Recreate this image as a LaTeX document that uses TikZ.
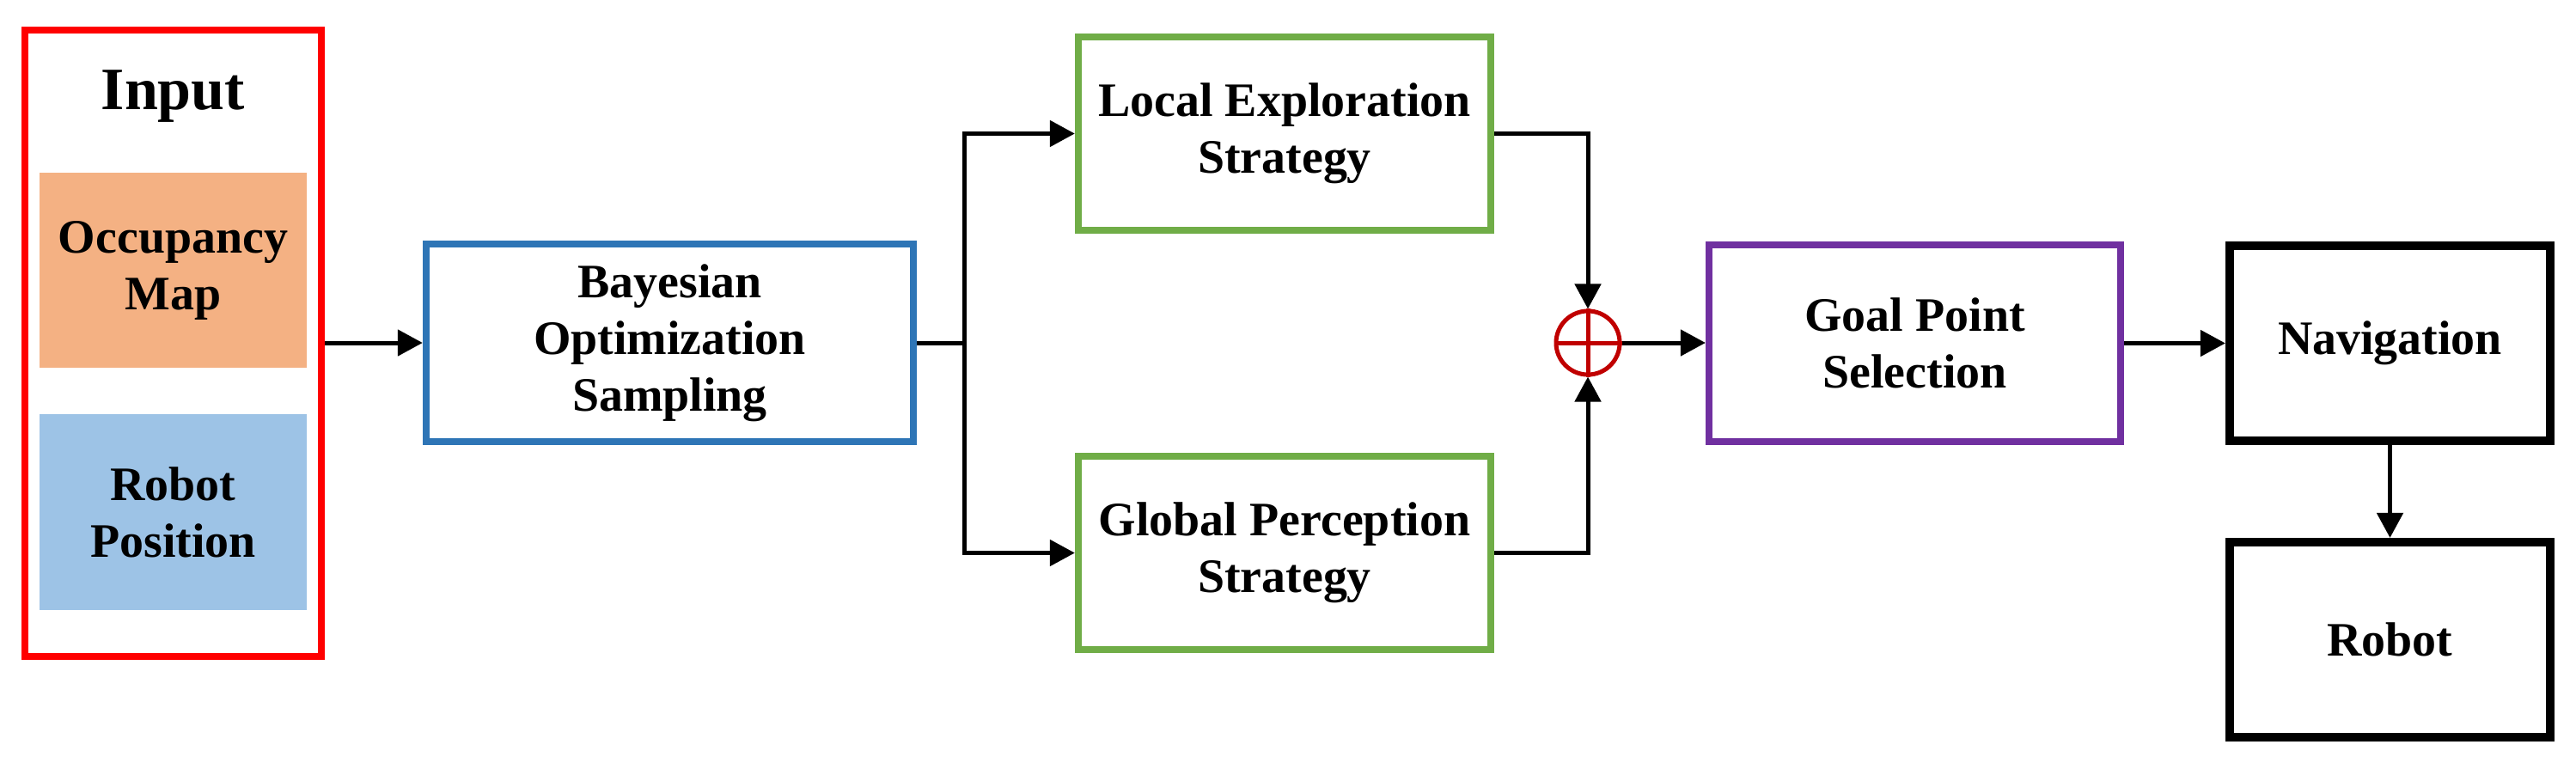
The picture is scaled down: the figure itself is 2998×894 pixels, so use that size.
\documentclass[tikz,border=0pt]{standalone}
\usepackage{fontspec}
\setmainfont{Liberation Serif}
\usetikzlibrary{arrows.meta}
\definecolor{inred}{HTML}{FF0000}
\definecolor{bblue}{HTML}{2E75B6}
\definecolor{ggreen}{HTML}{70AD47}
\definecolor{ppurple}{HTML}{7030A0}
\definecolor{oorange}{HTML}{F4B183}
\definecolor{lblue}{HTML}{9DC3E6}
\definecolor{dred}{HTML}{C00000}
\begin{document}
\begin{tikzpicture}[x=0.01cm,y=-0.01cm,
  box/.style={draw,rectangle,inner sep=0pt,align=center,font=\fontsize{15.9pt}{18.8pt}\selectfont\bfseries,line width=0.08cm},
  fillbox/.style={rectangle,inner sep=0pt,align=center,font=\fontsize{15.9pt}{18.8pt}\selectfont\bfseries},
  arr/.style={line width=0.05cm,-{Triangle[length=0.29cm,width=0.30cm]}},
  conn/.style={line width=0.05cm}]
\useasboundingbox (0,0) rectangle (2998,894);
% input
\node[box,draw=inred,minimum width=3.45cm,minimum height=7.29cm] (inputbox) at (201.5,399.5) {};
\node[anchor=base,inner sep=0pt,font=\fontsize{19.9pt}{22pt}\selectfont\bfseries] (inputtitle) at (201.5,128) {Input};
\node[fillbox,fill=oorange,minimum width=3.11cm,minimum height=2.27cm] (occ) at (201.5,314.5) {Occupancy\\Map};
\node[fillbox,fill=lblue,minimum width=3.11cm,minimum height=2.28cm] (rob) at (201.5,596) {Robot\\Position};
% bayes
\node[box,draw=bblue,minimum width=5.67cm,minimum height=2.30cm] (bayes) at (779.5,399) {Bayesian\\Optimization\\Sampling};
\node[box,draw=ggreen,minimum width=4.80cm,minimum height=2.25cm] (local) at (1495,155.5) {Local Exploration\\Strategy};
\node[box,draw=ggreen,minimum width=4.80cm,minimum height=2.25cm] (global) at (1495,643.5) {Global Perception\\Strategy};
\node[circle,draw=dred,line width=0.05cm,minimum size=0.74cm,inner sep=0pt] (sum) at (1848,399) {};
\draw[dred,line width=0.05cm] (sum.north) -- (sum.south) (sum.west) -- (sum.east);
\node[box,draw=ppurple,minimum width=4.79cm,minimum height=2.29cm] (goal) at (2228.5,399.5) {Goal Point\\Selection};
\node[box,draw=black,line width=0.10cm,minimum width=3.73cm,minimum height=2.27cm] (nav) at (2781.5,399.5) {Navigation};
\node[box,draw=black,line width=0.10cm,minimum width=3.73cm,minimum height=2.27cm] (robot) at (2781.5,744.5) {Robot};
\coordinate (split) at (1122,399);
% connectors
\draw[arr] (inputbox.east |- bayes.west) -- (bayes.west);
\draw[conn] (bayes.east) -- (split);
\draw[arr] (split) |- (local.west);
\draw[arr] (split) |- (global.west);
\draw[arr] (local.east) -| (sum.north);
\draw[arr] (global.east) -| (sum.south);
\draw[arr] (sum.east) -- (goal.west |- sum.east);
\draw[arr] (goal.east) -- (nav.west);
\draw[arr] (nav.south) -- (robot.north);
\end{tikzpicture}
\end{document}
